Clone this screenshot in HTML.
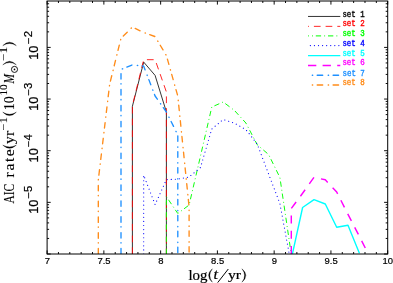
<!DOCTYPE html>
<html><head><meta charset="utf-8"><title>AIC rate</title>
<style>
html,body{margin:0;padding:0;background:#fff;}
body{width:393px;height:283px;overflow:hidden;}
svg{display:block;will-change:transform;}

</style></head><body>
<svg width="393" height="283" viewBox="0 0 393 283">
<rect width="393" height="283" fill="#fff"/>
<defs><clipPath id="cp"><rect x="47.1" y="1.0" width="340.6" height="253.0"/></clipPath></defs>
<g clip-path="url(#cp)" fill="none" stroke-linejoin="round">
<path d="M132.4,254.0 L132.4,106.3 L143.7,62.1 L155.1,75.4 L166.4,112.0 L166.4,254.0" stroke="#000" stroke-width="0.8"/>
<path d="M132.4,254.0 L132.4,105.6 L143.7,59.7 L155.1,59.7 L166.4,92.0 L166.4,254.0" stroke="#ff0000" stroke-width="0.85" stroke-dasharray="6.7 5"/>
<path d="M166.4,254.0 L166.4,196.7 L177.8,213.5 L189.1,205.0 L200.5,156.0 L211.8,107.0 L223.2,102.0 L234.5,110.5 L245.9,123.0 L257.2,144.7 L268.6,154.5 L279.9,177.5 L291.3,254.5" stroke="#00ff00" stroke-width="0.95" stroke-dasharray="5.3 3.1 0.9 2.9"/>
<path d="M143.7,254.0 L143.7,175.3 L155.1,204.6 L166.4,179.6 L177.8,179.1 L189.1,177.0 L200.5,167.5 L211.8,129.0 L223.2,119.5 L234.5,123.2 L245.9,129.6 L257.2,144.0 L268.6,174.0 L279.9,203.5 L291.3,265.0" stroke="#0000ff" stroke-width="1.15" stroke-linecap="round" stroke-dasharray="0.01 4.06"/>
<path d="M291.3,259.0 L302.6,207.5 L314.0,199.7 L325.3,204.0 L336.7,227.3 L348.0,225.3 L359.4,253.3" stroke="#00ffff" stroke-width="1.4"/>
<path d="M291.3,254.0 L291.3,208.5 L302.6,193.3 L314.0,177.3 L325.3,179.8 L336.7,192.0 L348.0,214.4 L359.4,236.4 L370.7,258.6" stroke="#ff00ff" stroke-width="1.45" stroke-dasharray="8.0 7.2"/>
<path d="M121.0,254.0 L121.0,69.5 L132.4,64.8 L143.7,66.2 L155.1,96.0 L166.4,112.0 L177.8,135.0 L177.8,254.0" stroke="#1e90ff" stroke-width="1.35" stroke-linecap="round" stroke-dasharray="5.5 5.5 0.4 4.5"/>
<path d="M98.3,254.0 L98.3,180.0 L109.7,84.0 L121.0,38.2 L132.4,27.1 L143.7,32.5 L155.1,36.6 L166.4,55.6 L177.8,96.0 L189.1,207.0 L189.1,254.0" stroke="#ff8c1a" stroke-width="1.35" stroke-linecap="round" stroke-dasharray="5.46 5.46 0.4 4.47"/>
</g>
<rect x="47.1" y="1.0" width="340.6" height="253.0" fill="none" stroke="#000" stroke-width="1"/>
<path d="M47.10,254.00v-3.60M47.10,1.00v3.60M58.45,254.00v-2.00M58.45,1.00v2.00M69.81,254.00v-2.00M69.81,1.00v2.00M81.16,254.00v-2.00M81.16,1.00v2.00M92.51,254.00v-2.00M92.51,1.00v2.00M103.87,254.00v-3.60M103.87,1.00v3.60M115.22,254.00v-2.00M115.22,1.00v2.00M126.57,254.00v-2.00M126.57,1.00v2.00M137.93,254.00v-2.00M137.93,1.00v2.00M149.28,254.00v-2.00M149.28,1.00v2.00M160.63,254.00v-3.60M160.63,1.00v3.60M171.99,254.00v-2.00M171.99,1.00v2.00M183.34,254.00v-2.00M183.34,1.00v2.00M194.69,254.00v-2.00M194.69,1.00v2.00M206.05,254.00v-2.00M206.05,1.00v2.00M217.40,254.00v-3.60M217.40,1.00v3.60M228.75,254.00v-2.00M228.75,1.00v2.00M240.11,254.00v-2.00M240.11,1.00v2.00M251.46,254.00v-2.00M251.46,1.00v2.00M262.81,254.00v-2.00M262.81,1.00v2.00M274.17,254.00v-3.60M274.17,1.00v3.60M285.52,254.00v-2.00M285.52,1.00v2.00M296.87,254.00v-2.00M296.87,1.00v2.00M308.23,254.00v-2.00M308.23,1.00v2.00M319.58,254.00v-2.00M319.58,1.00v2.00M330.93,254.00v-3.60M330.93,1.00v3.60M342.29,254.00v-2.00M342.29,1.00v2.00M353.64,254.00v-2.00M353.64,1.00v2.00M364.99,254.00v-2.00M364.99,1.00v2.00M376.35,254.00v-2.00M376.35,1.00v2.00M387.70,254.00v-3.60M387.70,1.00v3.60M47.10,254.00h3.60M387.70,254.00h-3.60M47.10,238.45h2.00M387.70,238.45h-2.00M47.10,229.36h2.00M387.70,229.36h-2.00M47.10,222.90h2.00M387.70,222.90h-2.00M47.10,217.90h2.00M387.70,217.90h-2.00M47.10,213.81h2.00M387.70,213.81h-2.00M47.10,210.35h2.00M387.70,210.35h-2.00M47.10,207.36h2.00M387.70,207.36h-2.00M47.10,204.71h2.00M387.70,204.71h-2.00M47.10,202.35h3.60M387.70,202.35h-3.60M47.10,186.80h2.00M387.70,186.80h-2.00M47.10,177.71h2.00M387.70,177.71h-2.00M47.10,171.25h2.00M387.70,171.25h-2.00M47.10,166.25h2.00M387.70,166.25h-2.00M47.10,162.16h2.00M387.70,162.16h-2.00M47.10,158.70h2.00M387.70,158.70h-2.00M47.10,155.71h2.00M387.70,155.71h-2.00M47.10,153.06h2.00M387.70,153.06h-2.00M47.10,150.70h3.60M387.70,150.70h-3.60M47.10,135.15h2.00M387.70,135.15h-2.00M47.10,126.06h2.00M387.70,126.06h-2.00M47.10,119.60h2.00M387.70,119.60h-2.00M47.10,114.60h2.00M387.70,114.60h-2.00M47.10,110.51h2.00M387.70,110.51h-2.00M47.10,107.05h2.00M387.70,107.05h-2.00M47.10,104.06h2.00M387.70,104.06h-2.00M47.10,101.41h2.00M387.70,101.41h-2.00M47.10,99.05h3.60M387.70,99.05h-3.60M47.10,83.50h2.00M387.70,83.50h-2.00M47.10,74.41h2.00M387.70,74.41h-2.00M47.10,67.95h2.00M387.70,67.95h-2.00M47.10,62.95h2.00M387.70,62.95h-2.00M47.10,58.86h2.00M387.70,58.86h-2.00M47.10,55.40h2.00M387.70,55.40h-2.00M47.10,52.41h2.00M387.70,52.41h-2.00M47.10,49.76h2.00M387.70,49.76h-2.00M47.10,47.40h3.60M387.70,47.40h-3.60M47.10,31.85h2.00M387.70,31.85h-2.00M47.10,22.76h2.00M387.70,22.76h-2.00M47.10,16.30h2.00M387.70,16.30h-2.00M47.10,11.30h2.00M387.70,11.30h-2.00M47.10,7.21h2.00M387.70,7.21h-2.00M47.10,3.75h2.00M387.70,3.75h-2.00" stroke="#000" stroke-width="0.95" fill="none"/>
<text stroke="#000" stroke-width="0.22" transform="translate(44.67,264.20) scale(0.9450,0.8739)" font-family='"Liberation Sans",sans-serif' font-size="10">7</text>
<text stroke="#000" stroke-width="0.22" transform="translate(97.45,264.20) scale(0.9450,0.8739)" font-family='"Liberation Sans",sans-serif' font-size="10">7.5</text>
<text stroke="#000" stroke-width="0.22" transform="translate(158.21,264.20) scale(0.9450,0.8739)" font-family='"Liberation Sans",sans-serif' font-size="10">8</text>
<text stroke="#000" stroke-width="0.22" transform="translate(211.02,264.20) scale(0.9450,0.8739)" font-family='"Liberation Sans",sans-serif' font-size="10">8.5</text>
<text stroke="#000" stroke-width="0.22" transform="translate(271.74,264.20) scale(0.9450,0.8739)" font-family='"Liberation Sans",sans-serif' font-size="10">9</text>
<text stroke="#000" stroke-width="0.22" transform="translate(324.54,264.20) scale(0.9450,0.8739)" font-family='"Liberation Sans",sans-serif' font-size="10">9.5</text>
<text stroke="#000" stroke-width="0.22" transform="translate(382.47,264.20) scale(0.9450,0.8739)" font-family='"Liberation Sans",sans-serif' font-size="10">10</text>
<g transform="translate(37.6,58.85) rotate(-90)"><text stroke="#000" stroke-width="0.2" transform="translate(-0.97,0.00) scale(1.2737,1.3324)" font-family='"Liberation Sans",sans-serif' font-size="10">10</text><text stroke="#000" stroke-width="0.2" transform="translate(14.84,-5.30) scale(1.1437,1.0172)" font-family='"Liberation Sans",sans-serif' font-size="10">−2</text></g>
<g transform="translate(37.6,110.50) rotate(-90)"><text stroke="#000" stroke-width="0.2" transform="translate(-0.37,0.00) scale(1.2737,1.3324)" font-family='"Liberation Sans",sans-serif' font-size="10">10</text><text stroke="#000" stroke-width="0.2" transform="translate(14.94,-5.30) scale(1.1367,1.0172)" font-family='"Liberation Sans",sans-serif' font-size="10">−3</text></g>
<g transform="translate(37.6,162.15) rotate(-90)"><text stroke="#000" stroke-width="0.2" transform="translate(-0.27,0.00) scale(1.2737,1.3324)" font-family='"Liberation Sans",sans-serif' font-size="10">10</text><text stroke="#000" stroke-width="0.2" transform="translate(15.15,-5.30) scale(1.1210,1.0172)" font-family='"Liberation Sans",sans-serif' font-size="10">−4</text></g>
<g transform="translate(37.6,213.80) rotate(-90)"><text stroke="#000" stroke-width="0.2" transform="translate(0.03,0.00) scale(1.2737,1.3324)" font-family='"Liberation Sans",sans-serif' font-size="10">10</text><text stroke="#000" stroke-width="0.2" transform="translate(15.24,-5.30) scale(1.1346,1.0172)" font-family='"Liberation Sans",sans-serif' font-size="10">−5</text></g>
<path d="M308,16.45H340.3" stroke="#000" stroke-width="0.80" fill="none"/>
<text stroke="#000" stroke-width="0.45" transform="translate(342.39,16.75) scale(0.7420,0.8258)" font-family='"Liberation Mono",monospace' font-size="10" fill="#000">set 1</text>
<path d="M308,26.35H340.3" stroke="#ff0000" stroke-width="0.85" stroke-dasharray="6.7 5" stroke-dashoffset="5.8" fill="none"/>
<text stroke="#ff0000" stroke-width="0.45" transform="translate(342.39,26.15) scale(0.7479,0.8258)" font-family='"Liberation Mono",monospace' font-size="10" fill="#ff0000">set 2</text>
<path d="M308,35.90H340.3" stroke="#00ff00" stroke-width="1.00" stroke-dasharray="5.3 3.1 0.9 2.9" stroke-dashoffset="4.4" fill="none"/>
<text stroke="#00ff00" stroke-width="0.45" transform="translate(342.39,35.90) scale(0.7459,0.8258)" font-family='"Liberation Mono",monospace' font-size="10" fill="#00ff00">set 3</text>
<path d="M308,45.50H340.3" stroke="#0000ff" stroke-width="1.25" stroke-dasharray="0.01 4.06" stroke-dashoffset="1.7" stroke-linecap="round" fill="none"/>
<text stroke="#0000ff" stroke-width="0.45" transform="translate(342.39,45.80) scale(0.7426,0.8258)" font-family='"Liberation Mono",monospace' font-size="10" fill="#0000ff">set 4</text>
<path d="M308,55.60H340.3" stroke="#00ffff" stroke-width="1.30" fill="none"/>
<text stroke="#00ffff" stroke-width="0.45" transform="translate(342.39,55.60) scale(0.7459,0.8258)" font-family='"Liberation Mono",monospace' font-size="10" fill="#00ffff">set 5</text>
<path d="M308,65.40H340.3" stroke="#ff00ff" stroke-width="1.50" stroke-dasharray="8.3 6.3" stroke-dashoffset="0.0" fill="none"/>
<text stroke="#ff00ff" stroke-width="0.45" transform="translate(342.39,65.30) scale(0.7463,0.8258)" font-family='"Liberation Mono",monospace' font-size="10" fill="#ff00ff">set 6</text>
<path d="M308,75.20H340.3" stroke="#1e90ff" stroke-width="1.35" stroke-dasharray="5.5 5.5 0.4 4.5" stroke-dashoffset="6.7" stroke-linecap="round" fill="none"/>
<text stroke="#1e90ff" stroke-width="0.45" transform="translate(342.39,75.50) scale(0.7498,0.8258)" font-family='"Liberation Mono",monospace' font-size="10" fill="#1e90ff">set 7</text>
<path d="M308,85.00H340.3" stroke="#ff8c1a" stroke-width="1.35" stroke-dasharray="5.5 5.5 0.4 4.5" stroke-dashoffset="6.7" stroke-linecap="round" fill="none"/>
<text stroke="#ff8c1a" stroke-width="0.45" transform="translate(342.39,85.30) scale(0.7466,0.8258)" font-family='"Liberation Mono",monospace' font-size="10" fill="#ff8c1a">set 8</text>
<text stroke="#000" stroke-width="0.15" transform="translate(188.50,279.80) scale(1.4853,1.3833)" font-family='"Liberation Serif",serif' font-size="10">log</text><path d="M212.30,268.80Q204.70,275.50 212.30,282.20Q207.20,275.50 212.30,268.80Z" fill="#000" stroke="#000" stroke-width="0.35" stroke-linejoin="round"/><text stroke="#000" stroke-width="0.15" transform="translate(213.49,279.40) scale(1.6148,1.4667)" font-family='"Liberation Serif",serif' font-size="10" font-style="italic">t</text><path d="M217.7,282.6L228.3,269.0" stroke="#000" stroke-width="1.0" fill="none"/><text stroke="#000" stroke-width="0.15" transform="translate(227.91,279.40) scale(1.5763,1.3508)" font-family='"Liberation Serif",serif' font-size="10">yr</text><path d="M242.00,268.80Q249.80,275.50 242.00,282.20Q247.30,275.50 242.00,268.80Z" fill="#000" stroke="#000" stroke-width="0.35" stroke-linejoin="round"/>
<g transform="translate(13.55,210.00) rotate(-90)"><text stroke="#000" stroke-width="0.08" transform="translate(6.39,0.00) scale(1.1525,1.4048)" font-family='"Liberation Serif",serif' font-size="10">AIC</text><text stroke="#000" stroke-width="0.08" transform="translate(32.59,0.00) scale(1.5734,1.4048)" font-family='"Liberation Serif",serif' font-size="10" letter-spacing="0.992">rate</text><text stroke="#000" stroke-width="0.08" transform="translate(65.91,0.00) scale(1.5734,1.4048)" font-family='"Liberation Serif",serif' font-size="10" letter-spacing="0.142">yr</text><text stroke="#000" stroke-width="0.08" transform="translate(79.79,-6.35) scale(1.2158,1.0355)" font-family='"Liberation Serif",serif' font-size="10">−1</text><text stroke="#000" stroke-width="0.08" transform="translate(99.65,0.00) scale(1.4187,1.3905)" font-family='"Liberation Serif",serif' font-size="10">10</text><text stroke="#000" stroke-width="0.08" transform="translate(114.40,-6.35) scale(1.1327,1.0355)" font-family='"Liberation Serif",serif' font-size="10">10</text><text stroke="#000" stroke-width="0.08" transform="translate(126.43,0.00) scale(1.1453,1.4048)" font-family='"Liberation Serif",serif' font-size="10" font-style="italic">M</text><text stroke="#000" stroke-width="0.08" transform="translate(149.46,-6.35) scale(1.2787,1.0355)" font-family='"Liberation Serif",serif' font-size="10">−1</text></g><path d="M2.80,145.20Q9.55,151.20 16.30,145.20Q9.55,148.70 2.80,145.20Z" fill="#000" stroke="#000" stroke-width="0.35" stroke-linejoin="round"/><path d="M2.80,112.20Q9.55,119.00 16.30,112.20Q9.55,116.50 2.80,112.20Z" fill="#000" stroke="#000" stroke-width="0.35" stroke-linejoin="round"/><path d="M2.80,64.80Q9.55,57.80 16.30,64.80Q9.55,60.30 2.80,64.80Z" fill="#000" stroke="#000" stroke-width="0.35" stroke-linejoin="round"/><path d="M2.80,45.60Q9.55,38.80 16.30,45.60Q9.55,41.30 2.80,45.60Z" fill="#000" stroke="#000" stroke-width="0.35" stroke-linejoin="round"/><circle cx="14.5" cy="69.4" r="3.05" fill="none" stroke="#000" stroke-width="0.9"/><circle cx="14.5" cy="69.4" r="0.85" fill="#000"/>
</svg>
</body></html>
